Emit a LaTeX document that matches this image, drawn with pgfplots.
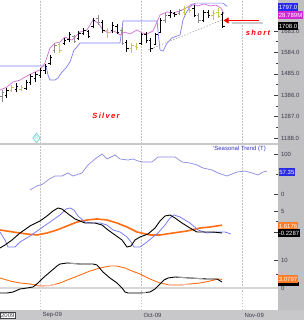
\documentclass[border=0pt]{standalone}
\usepackage{fontspec}
\setmainfont{Liberation Sans}
\usepackage{pgfplots}
\pgfplotsset{compat=1.18}
\usepackage{pgfplotstable}
\usetikzlibrary{arrows.meta}

\definecolor{stripgray}{RGB}{192,192,194}
\definecolor{botgray}{RGB}{200,200,202}
\definecolor{gridgray}{RGB}{195,195,195}
\definecolor{barblack}{RGB}{0,0,0}
\definecolor{bargray}{RGB}{140,140,140}
\definecolor{baryellow}{RGB}{200,200,70}
\definecolor{pinkline}{RGB}{215,110,215}
\definecolor{blueline}{RGB}{125,125,245}
\definecolor{seasblue}{RGB}{140,140,225}
\definecolor{orangeline}{RGB}{255,110,20}
\definecolor{paleorange}{RGB}{255,185,165}
\definecolor{labelgray}{RGB}{60,60,75}
\definecolor{boxblue}{RGB}{40,40,230}
\definecolor{boxmagenta}{RGB}{210,40,210}
\definecolor{boxorange}{RGB}{255,125,40}
\definecolor{zerogray}{RGB}{215,215,215}
\definecolor{sepgray}{RGB}{200,200,200}
\definecolor{seastext}{RGB}{50,50,200}
\definecolor{diamondcyan}{RGB}{120,215,215}

% bars: x position, high, low, open, close
\pgfplotstableread{
x H L O C
6.8 1419 1373 1387 1410
16.4 1442 1401 1415 1429
26 1456 1410 1419 1447
30.8 1484 1433 1447 1475
35.6 1493 1447 1466 1484
40.4 1512 1466 1479 1503
45.2 1530 1484 1503 1521
50 1572 1526 1535 1563
64.4 1651 1618 1627 1641
69.2 1678 1632 1646 1669
78.8 1683 1641 1651 1674
83.6 1697 1665 1674 1688
88.4 1688 1651 1683 1660
93.2 1743 1697 1706 1734
102.8 1734 1674 1725 1688
112.4 1725 1674 1688 1711
117.2 1715 1669 1706 1678
126.8 1641 1586 1632 1604
141.2 1674 1618 1627 1665
146 1678 1627 1665 1641
150.8 1651 1586 1641 1604
155.6 1674 1618 1623 1665
160.4 1743 1674 1678 1734
170 1780 1743 1757 1771
174.8 1771 1748 1766 1762
194 1803 1748 1789 1757
203.6 1780 1725 1734 1771
208.4 1780 1743 1771 1757
222.8 1771 1697 1762 1706
}\barsblack
\pgfplotstableread{
x H L O C
2 1410 1355 1382 1401
54.8 1627 1581 1595 1618
74 1665 1627 1660 1637
98 1757 1711 1743 1725
122 1701 1618 1688 1627
165.2 1766 1720 1734 1757
179.6 1785 1757 1766 1776
198.8 1766 1720 1757 1734
}\barsgray
\pgfplotstableread{
x H L O C
11.6 1433 1401 1410 1424
21.2 1433 1405 1415 1424
59.6 1632 1581 1623 1595
107.6 1697 1651 1688 1678
131.6 1627 1581 1604 1618
136.4 1627 1595 1614 1609
184.4 1799 1757 1771 1789
189.2 1803 1766 1794 1780
213.2 1780 1734 1757 1766
218 1789 1743 1771 1752
}\barsyellow

\pgfdeclareplotmark{openl}{\pgfpathmoveto{\pgfqpoint{-1.9pt}{0pt}}\pgfpathlineto{\pgfqpoint{0pt}{0pt}}\pgfusepathqstroke}
\pgfdeclareplotmark{closer}{\pgfpathmoveto{\pgfqpoint{0pt}{0pt}}\pgfpathlineto{\pgfqpoint{1.9pt}{0pt}}\pgfusepathqstroke}
\pgfdeclareplotmark{nothing}{}

\newcommand{\ohlc}[2]{%
  \addplot[only marks, mark=nothing, #2, error bars/.cd, y dir=plus, y explicit, error mark=none,
    error bar style={line width=1pt, #2}]
    table[x=x, y=L, y error plus expr=\thisrow{H}-\thisrow{L}] {#1};
  \addplot[only marks, mark=openl, #2, mark options={line width=0.8pt}] table[x=x, y=O] {#1};
  \addplot[only marks, mark=closer, #2, mark options={line width=0.8pt}] table[x=x, y=C] {#1};
}

\pgfplotsset{
  panel/.style={
    scale only axis, width=278pt, xmin=0, xmax=278,
    anchor=south west,
    axis line style={draw=none},
    xtick={40,141,242}, xticklabels={,,},
    xmajorgrids,
    major x grid style={gridgray, dash pattern=on 1.5pt off 1.5pt, line width=0.6pt},
    xtick style={draw=none},
    ytick pos=right, yticklabel pos=right, tick align=inside,
    ytick style={labelgray, line width=0.5pt},
    major tick length=4pt, minor tick length=2pt,
    ticklabel style={font=\fontsize{6}{7}\selectfont, text=labelgray},
    yticklabel style={anchor=west, xshift=-0.5pt},
    clip=true,
  }
}

\begin{document}
\begin{tikzpicture}[x=1pt,y=1pt]
\useasboundingbox (0,0) rectangle (304,320);
\clip (0,0) rectangle (304,320);
\fill[white] (0,0) rectangle (304,320);
\fill[stripgray] (278,0) rectangle (304,320);
\fill[botgray] (0,0) rectangle (304,10);

% ---------- Panel 1: price ----------
\begin{axis}[panel, at={(0pt,176pt)}, height=144pt, ymin=1160.3, ymax=1826.4,
  ytick={1188,1287,1386,1485,1584,1683},
  yticklabels={1188.0,1287.0,1386.0,1485.0,1584.0,1683.0},
  minor y tick num=1]
  % blue step band
  \addplot[blueline, line width=0.7pt] coordinates {
    (0,1521) (46,1521) (48,1479) (50,1456) (55,1456) (58,1466) (62,1493) (66,1512)
    (70,1540) (74,1595) (76,1604) (80,1627) (120,1627) (123,1729) (157,1729)
    (160,1595) (163,1590) (167,1627) (172,1651) (180,1665) (183,1734) (186,1766)
    (190,1795) (195,1812) (223,1812) (227,1797)};
  % pink average
  \addplot[pinkline, line width=0.7pt] coordinates {
    (0,1410) (7,1424) (13,1447) (20,1456) (25,1470) (33,1489) (40,1503) (45,1535)
    (50,1604) (55,1627) (60,1632) (65,1655) (72,1641) (80,1678) (87,1688) (93,1734)
    (98,1720) (103,1688) (108,1674) (114,1683) (120,1665) (125,1678) (130,1669)
    (137,1688) (142,1674) (147,1669) (153,1683) (157,1725) (160,1757) (167,1771)
    (173,1766) (180,1776) (186,1789) (192,1808) (198,1799) (204,1808) (210,1799)
    (216,1803) (221,1789) (224,1762)};
  % dashed trendline
  \addplot[gray!80, line width=0.5pt, dash pattern=on 1.5pt off 1.5pt] coordinates {(148,1595) (222,1734)};
  \ohlc{\barsgray}{bargray}
  \ohlc{\barsyellow}{baryellow}
  \ohlc{\barsblack}{barblack}
  % R marker
  \addplot[only marks, mark=diamond, mark size=4.8pt, diamondcyan, mark options={line width=0.8pt},
    nodes near coords={R}, every node near coord/.style={anchor=center, font=\fontsize{5}{5}\selectfont, text=diamondcyan}]
    coordinates {(36.5,1188)};
  % annotations
  \draw[gray!40, line width=2pt] (axis cs:263,1722) -- (axis cs:232,1722);
  \draw[red, line width=1pt, -{Triangle[length=5pt,width=6pt]}] (axis cs:259,1731.6) -- (axis cs:223.5,1731.6);
  \node[text=red, font=\fontsize{7.5}{8}\selectfont\bfseries\itshape\addfontfeature{LetterSpace=18}] at (axis cs:258,1673) {short};
  \node[text=red, font=\fontsize{7.5}{8}\selectfont\bfseries\itshape\addfontfeature{LetterSpace=18}] at (axis cs:106,1290) {Silver};
\end{axis}

% ---------- Panel 2: seasonal trend ----------
\begin{axis}[panel, at={(0pt,121pt)}, height=55pt, ymin=-12.5, ymax=125,
  ytick={0,100}, yticklabels={0,100}, minor y tick num=1]
  \addplot[seasblue, line width=0.7pt] coordinates {
    (30,10) (36.7,20) (43,25) (48,35) (55,45) (62,45) (68,52.5) (73,45) (82,52.5)
    (88,72.5) (95,87.5) (102,100) (107,87.5) (115,97.5) (120,87.5) (128,85) (133,87.5)
    (138,82.5) (143,80) (152,80) (158,92.5) (167,92.5) (175,92.5) (182,80) (190,77.5)
    (197,72.5) (203,65) (212,60) (218,52.5) (227,45) (237,55) (245,57.5) (252,52.5)
    (258,47.5) (263,55) (267,57.35)};
\end{axis}

% ---------- Panel 3: MACD ----------
\begin{axis}[panel, at={(0pt,67pt)}, height=54pt, ymin=-5, ymax=7.857,
  ytick={0,5}, yticklabels={,5}, minor y tick num=1]
  \addplot[orangeline, line width=1.6pt] coordinates {
    (0,0.48) (13,0) (27,-0.48) (37,-0.71) (47,-0.24) (57,0.48) (67,1.43) (77,2.38)
    (87,2.86) (97,3.10) (107,2.86) (117,2.14) (127,1.19) (137,0) (150,-0.71) (160,-0.71)
    (173,-0.24) (187,0.24) (200,0.95) (210,1.19) (222,1.62)};
  \addplot[blueline, line width=0.8pt] coordinates {
    (0,0) (5,-1.90) (8,-3.57) (15,-3.57) (20,-2.38) (30,-0.95) (40,0.71) (50,2.38)
    (60,4.05) (66,5.48) (70,5.71) (74,5.24) (78,3.81) (85,2.38) (93,2.14) (100,2.14)
    (107,1.67) (113,0.48) (120,0) (127,-1.19) (131,-2.38) (134,-3.57) (140,-3.57)
    (147,-2.38) (153,-1.19) (158,-0.24) (165,1.67) (170,3.33) (174,4.05) (180,3.57)
    (190,2.14) (198,0.48) (207,-0.24) (217,0) (225,0) (231,-0.48)};
  \addplot[black, line width=0.9pt] coordinates {
    (0,-3.81) (5,-3.10) (12,-1.90) (20,-0.24) (30,1.43) (40,2.62) (47,3.81) (53,5.0)
    (58,5.71) (62,5.48) (67,4.52) (75,3.10) (85,2.14) (95,2.14) (102,1.67) (108,0.48)
    (115,-0.71) (122,-1.90) (127,-3.57) (131,-3.33) (135,-1.90) (140,-1.19) (148,-0.48)
    (155,0.95) (160,2.62) (165,3.81) (170,4.05) (175,3.33) (182,2.14) (190,0.95)
    (197,0) (205,0) (213,0) (222,-0.23)};
\end{axis}

% ---------- Panel 4 ----------
\begin{axis}[panel, at={(0pt,10pt)}, height=57pt, ymin=-7.857, ymax=12.5,
  ytick={0,10}, yticklabels={0,10}, minor y tick num=1,
  xticklabels={Sep-09,Oct-09,Nov-09},
  xticklabel style={anchor=west, yshift=-5pt, xshift=-1pt}]
  \addplot[zerogray, line width=1.6pt] coordinates {(0,0) (278,0)};
  \addplot[orangeline, line width=0.9pt] coordinates {
    (0,3.57) (10,2.5) (20,1.79) (30,1.43) (40,0.71) (50,0.89) (60,1.79) (70,3.21)
    (80,4.64) (90,6.07) (100,7.14) (110,7.86) (117,7.86) (125,7.14) (132,6.07)
    (140,5.0) (150,3.21) (160,1.79) (170,1.07) (180,1.07) (190,1.43) (200,1.79)
    (210,2.5) (218,3.2) (222,3.08)};
  \addplot[paleorange, line width=0.9pt] coordinates {(37,0.80) (40,0.71) (50,0.89) (55,1.3)};
  \addplot[paleorange, line width=0.9pt] coordinates {(168,1.15) (170,1.07) (180,1.07) (190,1.43)};
  \addplot[black, line width=0.9pt] coordinates {
    (0,-1.79) (7,-1.79) (13,-1.43) (20,-0.36) (27,0) (33,0.36) (38,1.79) (43,3.57)
    (50,5.71) (57,7.86) (60,8.57) (67,8.93) (80,8.57) (93,8.57) (97,8.21) (103,5.71)
    (110,3.57) (117,1.79) (122,0) (125,-1.43) (128,-1.79) (140,-1.79) (150,-1.43)
    (155,-0.36) (160,1.43) (164,2.86) (168,3.57) (175,3.93) (190,3.57) (207,3.21)
    (217,3.21) (222,2.14)};
  \addplot[gray!75, line width=0.9pt] coordinates {(67,8.93) (80,8.57) (90,8.57)};
  \addplot[gray!75, line width=0.9pt] coordinates {(130,-1.79) (140,-1.79) (146,-1.55)};
  \addplot[gray!75, line width=0.9pt] coordinates {(178,3.87) (190,3.57) (203,3.3)};
\end{axis}

% panel separator
\draw[sepgray, line width=2pt] (0,176) -- (278,176);

% value boxes on the right scale
\tikzset{vbox/.style={anchor=west, text=white, inner sep=0.7pt, minimum height=7.5pt, font=\fontsize{6}{7}\selectfont}}
\node[vbox, fill=boxblue] at (278,313) {1797.0};
\node[vbox, fill=boxmagenta] at (278,305) {28.789M};
\node[vbox, fill=black] at (278,294) {1708.0};
\node[vbox, fill=boxblue] at (278.5,148) {57.35};
\node[vbox, fill=boxorange] at (278,94) {1.6176};
\node[vbox, fill=black] at (278,87) {-0.2287};
\fill[black] (278,34) rectangle (299,38);
\node[vbox, fill=boxorange] at (278,41) {3.0797};

% seasonal title
\node[anchor=east, text=seastext, font=\fontsize{6}{7}\selectfont, inner sep=0pt] at (266,171) {'Seasonal Trend (T)};
% year box
\node[anchor=west, draw=black!75, fill=white, inner sep=0.6pt, font=\fontsize{6}{7}\selectfont, text=labelgray] at (0.3,5) {2009};
\end{tikzpicture}
\end{document}
